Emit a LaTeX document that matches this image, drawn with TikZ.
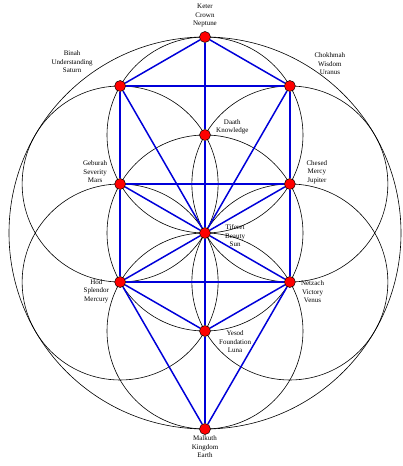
\documentclass[tikz,border=0pt]{standalone}
\usepackage{fontspec}
\setmainfont{Liberation Serif}
\usetikzlibrary{shapes,arrows,positioning,backgrounds}

\begin{document}
\begin{tikzpicture}[x=1pt, y=1pt, node distance=10pt]
    \tikzstyle{sephira} = [draw=black, circle, fill=red, minimum size=11pt, inner sep=0pt, line width=0.5pt]
    \tikzstyle{caption} = [align=center, inner sep=0pt, font=\fontsize{7}{8.5}\selectfont]
    \tikzstyle{ring}    = [draw=black, line width=0.6pt]
    \tikzstyle{branch}  = [draw=blue!85!black, line width=1.5pt]

    \useasboundingbox (-205,-233) rectangle (198,233);

    \node [sephira] (keter)    at (0,196) {};
    \node [sephira] (chokhmah) at (84.87,147) {};
    \node [sephira] (binah)    at (-84.87,147) {};
    \node [sephira] (daath)    at (0,98) {};
    \node [sephira] (chesed)   at (84.87,49) {};
    \node [sephira] (geburah)  at (-84.87,49) {};
    \node [sephira] (tiferet)  at (0,0) {};
    \node [sephira] (netzach)  at (84.87,-49) {};
    \node [sephira] (hod)      at (-84.87,-49) {};
    \node [sephira] (yesod)    at (0,-98) {};
    \node [sephira] (malkuth)  at (0,-196) {};

    \node [caption, above=4pt of keter] (keterlbl) {Keter\\Crown\\Neptune};
    \node [caption, above=13pt of binah.center, xshift=-48pt] (binahlbl) {Binah\\Understanding\\Saturn};
    \node [caption, above=11pt of chokhmah.center, xshift=40pt] (chokhmahlbl) {Chokhmah\\Wisdom\\Uranus};
    \node [caption, right=11pt of daath.center, yshift=8pt] (daathlbl) {Daath\\Knowledge};
    \node [caption, above=1pt of geburah.center, xshift=-25pt] (geburahlbl) {Geburah\\Severity\\Mars};
    \node [caption, above=0pt of chesed.center, xshift=27pt] (chesedlbl) {Chesed\\Mercy\\Jupiter};
    \node [caption, right=20pt of tiferet.center, yshift=-3pt] (tiferetlbl) {Tiferet\\Beauty\\Sun};
    \node [caption, left=11pt of hod.center, yshift=-9pt] (hodlbl) {Hod\\Splendor\\Mercury};
    \node [caption, right=11pt of netzach.center, yshift=-10pt] (netzachlbl) {Netzach\\Victory\\Venus};
    \node [caption, right=14pt of yesod.center, yshift=-11pt] (yesodlbl) {Yesod\\Foundation\\Luna};
    \node [caption, below=1pt of malkuth] (malkuthlbl) {Malkuth\\Kingdom\\Earth};

    \begin{scope}[on background layer]
        % flower circles
        \draw [ring] (tiferet) circle (196);
        \foreach \c in {tiferet,daath,chesed,netzach,yesod,hod,geburah}
            \draw [ring] (\c) circle (98);

        % paths of the tree
        \draw [branch] (keter) -- (chokhmah);
        \draw [branch] (keter) -- (binah);
        \draw [branch] (binah) -- (chokhmah);
        \draw [branch] (keter) -- (daath);
        \draw [branch] (daath) -- (tiferet);

        \draw [branch] (binah) -- (geburah);
        \draw [branch] (geburah) -- (hod);
        \draw [branch] (chokhmah) -- (chesed);
        \draw [branch] (chesed) -- (netzach);
        \draw [branch] (geburah) -- (chesed);
        \draw [branch] (hod) -- (netzach);

        \draw [branch] (binah) -- (tiferet);
        \draw [branch] (chokhmah) -- (tiferet);
        \draw [branch] (geburah) -- (tiferet);
        \draw [branch] (chesed) -- (tiferet);
        \draw [branch] (hod) -- (tiferet);
        \draw [branch] (netzach) -- (tiferet);

        \draw [branch] (tiferet) -- (yesod);
        \draw [branch] (hod) -- (yesod);
        \draw [branch] (netzach) -- (yesod);
        \draw [branch] (yesod) -- (malkuth);
        \draw [branch] (hod) -- (malkuth);
        \draw [branch] (netzach) -- (malkuth);
    \end{scope}
\end{tikzpicture}
\end{document}
